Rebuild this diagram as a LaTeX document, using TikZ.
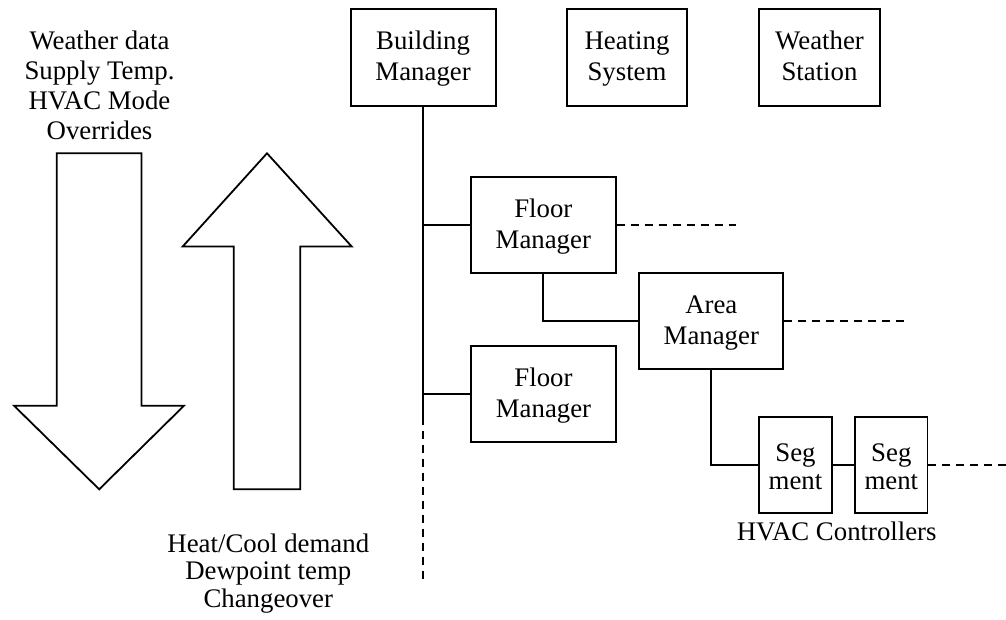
\documentclass[tikz,border=0pt]{standalone}
\usepackage{fontspec}
\setmainfont{Liberation Serif}
\newcommand\topst{\rule{0pt}{21.8pt}}
\newcommand\botst{\rule[-5.8pt]{0pt}{6pt}}
\newcommand\segst{\rule{0pt}{21.1pt}}
\begin{document}
\begin{tikzpicture}[x=1pt,y=-1pt,
  box/.style={draw, line width=1.8pt, inner sep=0pt, align=center, font=\fontsize{26.8}{31}\selectfont},
  segbox/.style={box, minimum width=72.5pt, minimum height=96pt, font=\fontsize{26.8}{28.3}\selectfont},
  link/.style={line width=1.8pt},
  dashlink/.style={line width=1.8pt, dash pattern=on 8pt off 6pt},
  lbl/.style={inner sep=0pt, anchor=base, font=\fontsize{26.8}{30}\selectfont},
  bigarrow/.style={draw, line width=1.8pt, line join=miter}]
\useasboundingbox (0,0) rectangle (1006,620);

% boxes
\node[box, minimum width=145pt, minimum height=96.4pt] (bm) at (423.1,57.5) {\topst Building\\Manager\botst};
\node[box, minimum width=120.6pt, minimum height=96.4pt] (hs) at (627,57.5) {\topst Heating\\System\botst};
\node[box, minimum width=121pt, minimum height=96.4pt] (ws) at (819.5,57.5) {\topst Weather\\Station\botst};
\node[box, minimum width=144.7pt, minimum height=96pt] (fm1) at (543.3,225.3) {\topst Floor\\Manager\botst};
\node[box, minimum width=144pt, minimum height=96pt] (am) at (711.3,321.3) {\topst Area\\Manager\botst};
\node[box, minimum width=145pt, minimum height=96pt] (fm2) at (543.5,393.7) {\topst Floor\\Manager\botst};
\node[segbox] (s1) at (795.5,465.3) {\segst Seg\\ment};
\node[segbox] (s2) at (891.3,465.3) {\segst Seg\\ment};

% connectors
\coordinate (bus1) at (423.1,416.7);
\coordinate (busend) at (423.1,579.3);
\coordinate (fm1end) at (736,225.3);
\coordinate (amend) at (909,321.3);
\coordinate (s2end) at (1006,465.3);
\draw[link] (bm.south) -- (bus1);
\draw[dashlink] (bus1) -- (busend);
\draw[link] (bm.south |- fm1.west) -- (fm1.west);
\draw[link] (bm.south |- fm2.west) -- (fm2.west);
\draw[dashlink] (fm1.east) -- (fm1end);
\draw[link] (fm1.south) |- (am.west);
\draw[dashlink] (am.east) -- (amend);
\draw[link] (am.south) |- (s1.west);
\draw[link] (s1.east) -- (s2.west);
\draw[dashlink] (s2.east) -- (s2end);

\node[lbl] (hvac) at (836.7,540) {HVAC Controllers};

% big arrows
\draw[bigarrow] (56.7,153.3) -- (141.5,153.3) -- (141.5,405.7) -- (184,405.7)
  -- (99.2,489.3) -- (14,405.7) -- (56.7,405.7) -- cycle;
\draw[bigarrow] (267,153.3) -- (351.7,246.5) -- (300.3,246.5) -- (300.3,489.3)
  -- (233.7,489.3) -- (233.7,246.5) -- (182.7,246.5) -- cycle;

% arrow labels
\node[lbl] (d1) at (99.5,49.3) {Weather data};
\node[lbl] (d2) at (99.5,79.5) {Supply Temp.};
\node[lbl] (d3) at (99.5,109.7) {HVAC Mode};
\node[lbl] (d4) at (99.5,139.9) {Overrides};
\node[lbl] (u1) at (268.3,552.3) {Heat/Cool demand};
\node[lbl] (u2) at (268.3,579.8) {Dewpoint temp};
\node[lbl] (u3) at (268.3,607.3) {Changeover};
\end{tikzpicture}
\end{document}
